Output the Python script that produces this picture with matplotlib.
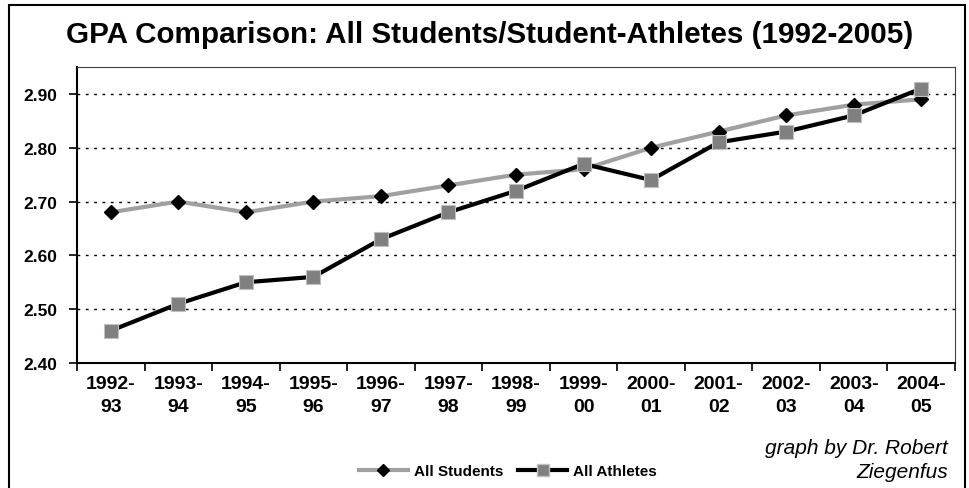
import matplotlib.pyplot as plt
from matplotlib.patches import Rectangle
from matplotlib.lines import Line2D

# datos
years = ['1992-\n93', '1993-\n94', '1994-\n95', '1995-\n96', '1996-\n97', '1997-\n98',
         '1998-\n99', '1999-\n00', '2000-\n01', '2001-\n02', '2002-\n03', '2003-\n04', '2004-\n05']
all_students = [2.68, 2.70, 2.68, 2.70, 2.71, 2.73, 2.75, 2.76, 2.80, 2.83, 2.86, 2.88, 2.89]
all_athletes = [2.46, 2.51, 2.55, 2.56, 2.63, 2.68, 2.72, 2.77, 2.74, 2.81, 2.83, 2.86, 2.91]
y_ticks = [2.40, 2.50, 2.60, 2.70, 2.80, 2.90]

fuente = ['Liberation Sans', 'DejaVu Sans']

fig = plt.figure(figsize=(9.7, 4.89), dpi=100)
W, H = 970, 489

# marco exterior
fig.patches.append(Rectangle((9 / W, -0.05), (965 - 9) / W, 1.05 - 6 / H,
                             transform=fig.transFigure, fill=False,
                             edgecolor='black', linewidth=1.5))

ax = fig.add_axes([77 / W, 1 - 364 / H, (955 - 77) / W, (364 - 68) / H])

x = list(range(len(years)))
ax.plot(x, all_students, color='#a0a0a0', linewidth=3, marker='D', markersize=7,
        markerfacecolor='black', markeredgecolor='black', zorder=3, label='All Students')
ax.plot(x, all_athletes, color='black', linewidth=3, marker='s', markersize=10,
        markerfacecolor='#808080', markeredgecolor='#c0c0c0', markeredgewidth=0.8,
        zorder=4, label='All Athletes')

ax.set_xlim(-0.5, len(years) - 0.5)
ax.set_ylim(2.40, 2.95)
ax.set_yticks(y_ticks)
ax.set_yticklabels(['%.2f' % v for v in y_ticks], fontsize=12.5, fontweight='bold', family=fuente)

for v in y_ticks[1:]:
    ax.axhline(v, color='black', linewidth=1, linestyle=(0, (2, 4)), zorder=1)

# ticks entre categorias, etiquetas centradas
ax.set_xticks([i - 0.5 for i in range(len(years) + 1)])
ax.set_xticklabels([''] * (len(years) + 1))
ax.set_xticks(x, minor=True)
ax.set_xticklabels(years, minor=True, fontsize=14, fontweight='bold', family=fuente,
                   linespacing=1.4)
ax.tick_params(axis='x', which='minor', length=0, pad=9)
ax.tick_params(axis='x', which='major', length=6, width=1.2, direction='out')
ax.tick_params(axis='y', length=6, width=1.2, direction='out', pad=8)

ax.spines['left'].set_color('black')
ax.spines['bottom'].set_color('black')
ax.spines['left'].set_linewidth(1.5)
ax.spines['bottom'].set_linewidth(1.5)
ax.spines['top'].set_color('#404040')
ax.spines['right'].set_color('#404040')

fig.text(490 / W, 1 - 35 / H, 'GPA Comparison: All Students/Student-Athletes (1992-2005)',
         ha='center', va='center', fontsize=21.3, fontweight='bold', family='Liberation Sans')

fig.text(948 / W, 1 - 449 / H, 'graph by Dr. Robert', ha='right', va='center',
         fontsize=15, style='italic', family=fuente)
fig.text(948 / W, 1 - 473 / H, 'Ziegenfus', ha='right', va='center',
         fontsize=15, style='italic', family=fuente)

handles = [Line2D([], [], color='#a0a0a0', linewidth=3, marker='D', markersize=6,
                  markerfacecolor='black', markeredgecolor='black'),
           Line2D([], [], color='black', linewidth=3, marker='s', markersize=8,
                  markerfacecolor='#808080', markeredgecolor='#c0c0c0')]
fig.legend(handles, ['All Students', 'All Athletes'], loc='center',
           bbox_to_anchor=(508 / W, 1 - 472 / H), ncol=2, frameon=False,
           prop={'family': fuente, 'weight': 'bold', 'size': 11},
           handlelength=3.2, handletextpad=0.4, columnspacing=1.0)

fig.savefig('out.png', dpi=100)
